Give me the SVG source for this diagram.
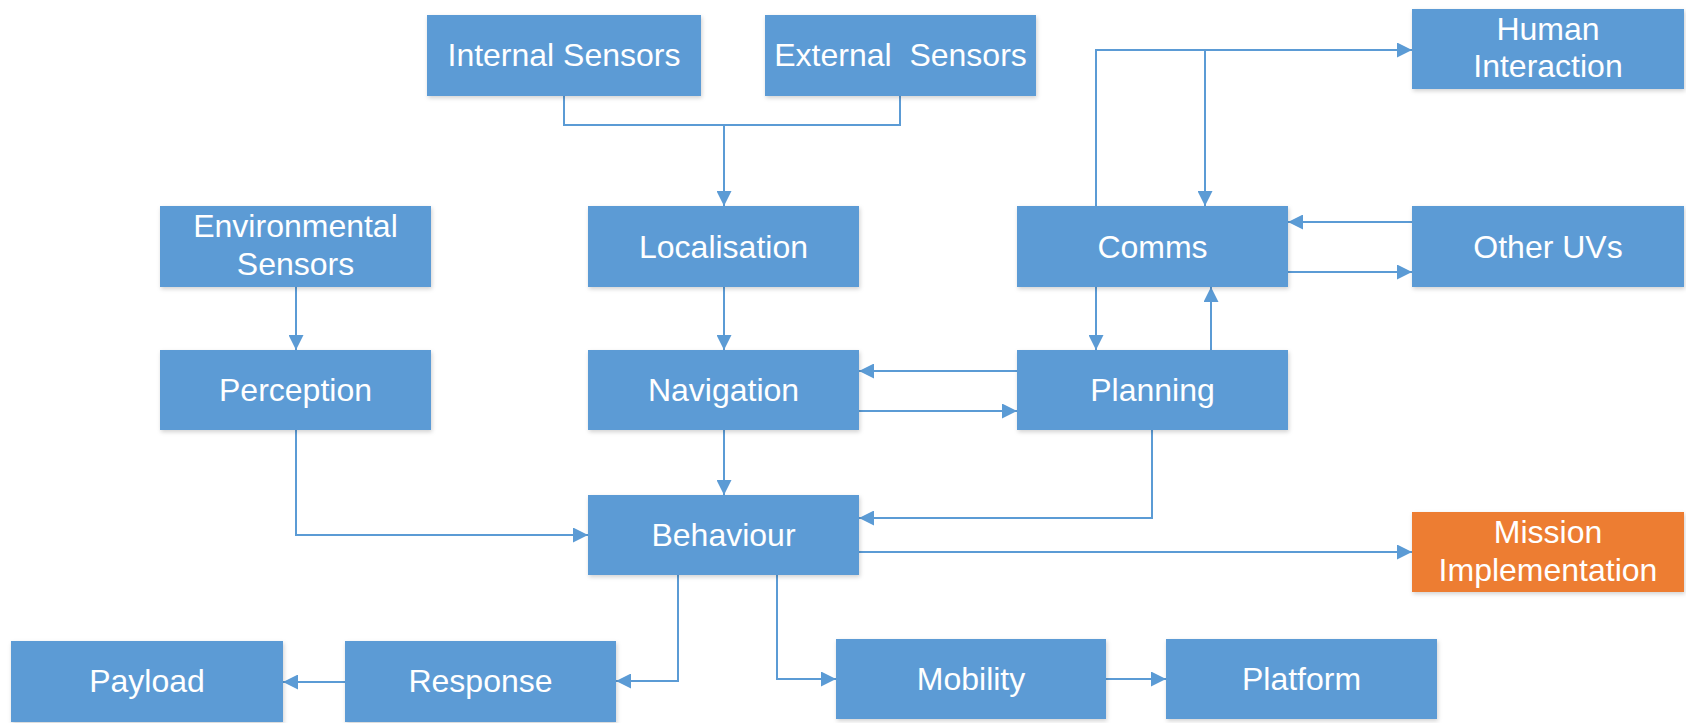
<svg xmlns="http://www.w3.org/2000/svg" width="1686" height="723" viewBox="0 0 1686 723">
  <style>
    .box { fill: #5B9BD5; filter: url(#shadow); }
    .box.accent { fill: #ED7D31; }
    .lbl { font-family: "Liberation Sans", Arial, sans-serif; font-size: 32px; fill: #FFFFFF; text-anchor: middle; }
    .wire { fill: none; stroke: #5B9BD5; stroke-width: 2; }
    .arrow { marker-end: url(#head); }
  </style>
  <defs>
    <filter id="shadow" x="-5%" y="-10%" width="115%" height="130%">
      <feDropShadow dx="1" dy="2" stdDeviation="2" flood-color="#000" flood-opacity="0.18"/>
    </filter>
    <marker id="head" markerUnits="userSpaceOnUse" markerWidth="15" markerHeight="15" refX="15" refY="7.5" orient="auto">
      <path d="M0,0 L15,7.5 L0,15 Z" fill="#5B9BD5"/>
    </marker>
  </defs>
  <rect width="1686" height="723" fill="#FFFFFF"/>

  <!-- connectors -->
  <g id="connectors">
    <!-- sensors merge into localisation -->
    <path class="wire" d="M564,96 V125 H900 V96"/>
    <path class="wire arrow" d="M724,125 V206"/>
    <!-- environmental sensors to perception -->
    <path class="wire arrow" d="M296,287 V350"/>
    <!-- localisation to navigation -->
    <path class="wire arrow" d="M724,287 V350"/>
    <!-- navigation to behaviour -->
    <path class="wire arrow" d="M724,430 V495"/>
    <!-- perception to behaviour -->
    <path class="wire arrow" d="M296,430 V535 H588"/>
    <!-- planning <-> navigation -->
    <path class="wire arrow" d="M1017,371 H859"/>
    <path class="wire arrow" d="M859,411 H1017"/>
    <!-- comms <-> human interaction -->
    <path class="wire arrow" d="M1096,206 V50 H1412"/>
    <path class="wire arrow" d="M1205,50 V206"/>
    <!-- comms <-> planning -->
    <path class="wire arrow" d="M1096,287 V350"/>
    <path class="wire arrow" d="M1211,350 V287"/>
    <!-- comms <-> other UVs -->
    <path class="wire arrow" d="M1412,222 H1288"/>
    <path class="wire arrow" d="M1288,272 H1412"/>
    <!-- planning to behaviour -->
    <path class="wire arrow" d="M1152,430 V518 H859"/>
    <!-- behaviour to mission implementation -->
    <path class="wire arrow" d="M859,552 H1412"/>
    <!-- behaviour to response and mobility -->
    <path class="wire arrow" d="M678,575 V681 H616"/>
    <path class="wire arrow" d="M777,575 V679 H836"/>
    <!-- response to payload, mobility to platform -->
    <path class="wire arrow" d="M345,682 H283"/>
    <path class="wire arrow" d="M1106,679 H1166"/>
  </g>

  <g id="internal-sensors">
    <rect class="box" x="427" y="15" width="274" height="81"/>
    <text class="lbl" x="564" y="66">Internal Sensors</text>
  </g>
  <g id="external-sensors">
    <rect class="box" x="765" y="15" width="271" height="81"/>
    <text class="lbl" x="900.5" y="66" style="white-space:pre">External  Sensors</text>
  </g>
  <g id="human-interaction">
    <rect class="box" x="1412" y="9" width="272" height="80"/>
    <text class="lbl" x="1548" y="40">Human</text>
    <text class="lbl" x="1548" y="77">Interaction</text>
  </g>
  <g id="environmental-sensors">
    <rect class="box" x="160" y="206" width="271" height="81"/>
    <text class="lbl" x="295.5" y="237">Environmental</text>
    <text class="lbl" x="295.5" y="275">Sensors</text>
  </g>
  <g id="localisation">
    <rect class="box" x="588" y="206" width="271" height="81"/>
    <text class="lbl" x="723.5" y="258">Localisation</text>
  </g>
  <g id="comms">
    <rect class="box" x="1017" y="206" width="271" height="81"/>
    <text class="lbl" x="1152.5" y="258">Comms</text>
  </g>
  <g id="other-uvs">
    <rect class="box" x="1412" y="206" width="272" height="81"/>
    <text class="lbl" x="1548" y="258">Other UVs</text>
  </g>
  <g id="perception">
    <rect class="box" x="160" y="350" width="271" height="80"/>
    <text class="lbl" x="295.5" y="401">Perception</text>
  </g>
  <g id="navigation">
    <rect class="box" x="588" y="350" width="271" height="80"/>
    <text class="lbl" x="723.5" y="401">Navigation</text>
  </g>
  <g id="planning">
    <rect class="box" x="1017" y="350" width="271" height="80"/>
    <text class="lbl" x="1152.5" y="401">Planning</text>
  </g>
  <g id="behaviour">
    <rect class="box" x="588" y="495" width="271" height="80"/>
    <text class="lbl" x="723.5" y="546">Behaviour</text>
  </g>
  <g id="mission-implementation">
    <rect class="box accent" x="1412" y="512" width="272" height="80"/>
    <text class="lbl" x="1548" y="543">Mission</text>
    <text class="lbl" x="1548" y="581">Implementation</text>
  </g>
  <g id="payload">
    <rect class="box" x="11" y="641" width="272" height="81"/>
    <text class="lbl" x="147" y="692">Payload</text>
  </g>
  <g id="response">
    <rect class="box" x="345" y="641" width="271" height="81"/>
    <text class="lbl" x="480.5" y="692">Response</text>
  </g>
  <g id="mobility">
    <rect class="box" x="836" y="639" width="270" height="80"/>
    <text class="lbl" x="971" y="690">Mobility</text>
  </g>
  <g id="platform">
    <rect class="box" x="1166" y="639" width="271" height="80"/>
    <text class="lbl" x="1301.5" y="690">Platform</text>
  </g>
</svg>
